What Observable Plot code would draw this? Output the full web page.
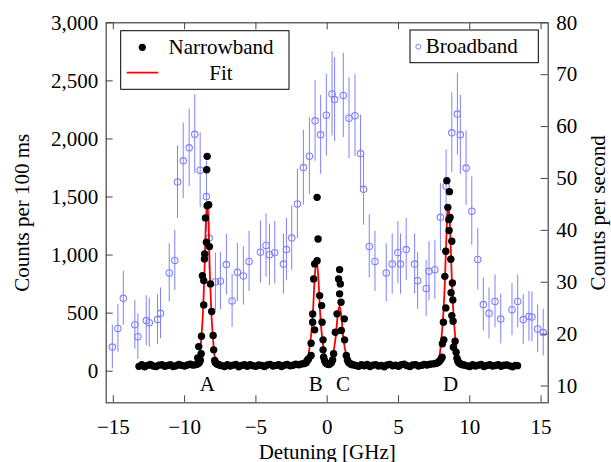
<!DOCTYPE html>
<html><head><meta charset="utf-8">
<script src="https://cdn.jsdelivr.net/npm/d3@7"></script>
<script src="https://cdn.jsdelivr.net/npm/@observablehq/plot@0.6"></script>
<style>body{margin:0;background:#fff}</style>
</head><body><div id="chart"></div>
<script>
// ---------- Narrowband (counts per 100 ms) ----------
const nbX = [
 -13.2,-13.0,-12.8,-12.6,-12.4,-12.2,-12.0,-11.8,-11.6,-11.4,-11.2,-11.0,-10.8,-10.6,-10.4,-10.2,-10.0,-9.8,-9.6,-9.4,-9.2,
 -9.1,-9.0,-8.95,-8.9,
 -8.42,-8.45,-8.42,-8.31,-8.54,-8.47,-8.26,-8.59,-8.61,-8.75,-8.66,-8.19,-8.66,-8.10,-8.82,-8.00,-9.01,-7.96,-8.84,-9.08,-7.89,-8.98,
 -7.85,-7.8,-7.7,-7.6,-7.5,
 -7.4,-7.2,-7.0,-6.8,-6.6,-6.4,-6.2,-6.0,-5.8,-5.6,-5.4,-5.2,-5.0,-4.8,-4.6,-4.4,-4.2,-4.0,-3.8,-3.6,-3.4,-3.2,-3.0,-2.8,-2.6,-2.4,-2.2,-2.0,-1.8,-1.6,
 -1.5,-1.45,-1.4,-1.35,
 -0.71,-0.64,-0.71,-0.88,-0.95,-0.53,-0.39,-1.02,-0.36,-1.02,-0.88,-1.13,-0.29,-0.29,-1.13,-1.30,-0.25,
 -0.18,-0.1,0.0,0.1,0.2,0.3,0.38,
 0.87,0.80,0.92,0.87,0.97,0.69,1.20,0.99,0.57,1.22,0.45,1.34,
 1.42,1.48,1.55,1.65,1.72,
 1.8,2.0,2.2,2.4,2.6,2.8,3.0,3.2,3.4,3.6,3.8,4.0,4.2,4.4,4.6,4.8,5.0,5.2,5.4,5.6,5.8,6.0,6.2,6.4,6.6,6.8,7.0,7.2,7.4,7.6,
 7.7,7.8,7.9,7.98,
 8.39,8.57,8.46,8.62,8.53,8.55,8.74,8.32,8.67,8.25,8.78,8.69,8.81,8.32,8.74,8.83,8.15,8.97,8.18,8.08,8.85,9.04,8.06,
 9.1,9.15,9.2,9.3,9.4,9.5,
 9.6,9.8,10.0,10.2,10.4,10.6,10.8,11.0,11.2,11.4,11.6,11.8,12.0,12.2,12.4,12.6,12.8,13.0,13.2,13.35
];
const nbY = [
 42,55,38,50,58,45,40,52,57,43,49,56,41,47,59,50,44,54,60,52,57,
 62,70,80,95,
 1850,1735,1425,1434,1320,1110,1073,1010,967,823,780,752,571,514,301,307,212,184,150,115,92,92,
 78,68,60,56,52,
 48,41,56,45,52,58,39,50,55,43,57,47,42,54,49,40,53,59,44,50,56,41,52,58,47,51,60,55,62,66,
 72,80,92,100,
 1497,1139,952,924,795,651,565,493,422,422,356,241,270,184,135,107,120,
 90,70,62,58,64,74,96,
 875,795,752,666,594,494,451,350,336,270,150,135,
 96,80,70,62,58,
 56,49,42,55,47,58,40,52,57,44,50,39,54,59,46,51,43,55,60,48,41,53,57,45,50,58,54,60,63,66,
 70,78,90,104,
 1641,1546,1411,1325,1305,1211,1119,1033,964,817,760,675,614,545,479,430,422,258,270,236,207,163,120,
 112,92,78,66,60,56,
 54,47,41,56,44,52,58,40,50,55,45,49,57,42,51,53,46,39,50,48
];

// ---------- Fit (counts per 100 ms) ----------
const fitX = [-13.3,-11,-9.92,-9.42,-9.12,-9.02,-8.92,-8.82,-8.72,-8.62,-8.52,-8.42,-8.32,-8.22,-8.12,-8.02,-7.92,-7.82,-7.72,-7.42,-6.92,-5,-3,
 -2.55,-1.95,-1.59,-1.47,-1.35,-1.23,-1.11,-0.99,-0.87,-0.75,-0.63,-0.51,-0.39,-0.27,
 -0.15,-0.03,0.05,0.14,0.26,0.38,0.50,0.62,0.74,0.86,0.98,1.10,1.22,1.34,1.46,1.58,1.70,2.06,2.66,5,
 6.7,7.3,7.66,7.78,7.9,8.02,8.14,8.26,8.38,8.50,8.62,8.74,8.86,8.98,9.10,9.22,9.34,9.7,10.3,12,13.35];
const fitY = [48,49,52,58,72,95,150,300,490,800,1250,1448,1250,800,490,300,150,95,72,58,52,49,50,
 51,54,63,78,114,210,332,531,821,948,821,531,332,210,
 120,86,76,79,93,145,210,323,488,560,488,323,210,140,85,65,57,52,50,49,
 52,58,72,95,150,295,485,790,1235,1428,1235,790,485,295,150,95,72,58,52,49,48];

// ---------- Broadband (counts per second) ----------
const bbX = [-15.07,-14.68,-14.30,-13.49,-13.28,-12.69,-12.48,-11.90,-11.69,-11.08,-10.69,-10.50,-10.10,-9.68,-9.29,-8.91,-8.47,-8.28,-7.84,-7.49,-7.07,-6.67,-6.30,-5.88,-5.48,-4.68,-4.29,-4.05,-3.68,-3.07,-2.86,-2.49,-2.09,-1.67,-1.25,-0.85,-0.46,-0.06,0.34,0.52,1.13,1.53,1.95,2.34,2.55,2.95,3.35,4.14,4.56,4.96,5.14,5.54,6.13,6.34,6.94,7.14,7.55,7.94,8.34,8.74,9.13,9.34,9.74,10.14,10.56,10.95,11.35,11.77,12.17,12.96,13.36,13.75,14.15,14.36,14.76,15.15];
const bbY = [17.5,21.1,26.9,21.8,19.5,22.6,22.2,22.8,24.0,31.8,34.2,49.3,53.4,55.9,58.5,51.6,46.5,38.5,30.1,30.2,33.4,26.4,31.9,31.2,34.0,35.8,37.1,35.3,35.7,33.5,36.3,38.5,45.1,52.1,54.3,61.1,58.4,62.2,66.3,65.2,66.0,61.6,62.1,54.8,47.9,36.9,34.0,31.8,33.5,35.7,33.5,36.3,33.5,30.3,28.8,32.1,32.4,42.5,48.5,58.8,62.4,58.4,52.0,43.7,34.4,25.7,24.0,26.3,22.9,24.7,26.3,22.8,23.4,23.3,21.0,20.3];
const bbErr = [4.2,4.6,5.2,4.7,4.4,4.8,4.7,4.8,4.9,5.6,5.8,7.0,7.3,7.5,7.6,7.2,6.8,6.2,5.5,5.5,5.8,5.1,5.6,5.6,5.8,6.0,6.1,5.9,6.0,5.8,6.0,6.2,6.7,7.2,7.4,7.8,7.6,7.9,8.1,8.1,8.1,7.8,7.9,7.4,6.9,6.1,5.8,5.6,5.8,6.0,5.8,6.0,5.8,5.5,5.4,5.7,5.7,6.5,7.0,7.7,7.9,7.6,7.2,6.6,5.9,5.1,4.9,5.1,4.8,5.0,5.1,4.8,4.8,4.8,4.6,4.5];

// ---------- Ticks and labels ----------
const xTicks = [-15,-10,-5,0,5,10,15];
const yTicks = [0,500,1000,1500,2000,2500,3000];
const rTicks = [10,20,30,40,50,60,70,80];
const peakLabels = ["A","B","C","D"];
const peakLabelX = [-8.4,-0.8,1.1,8.65];
const xTitle = "Detuning [GHz]";
const yTitle = "Counts per 100 ms";
const rTitle = "Counts per second";
const legendLeft = ["Narrowband","Fit"];
const legendRight = ["Broadband"];

// ---------- Layout ----------
const W = 611, H = 462;
const mL = 105.7, mR = 63.3, mT = 22.3, mB = 59.7;
const fw = W - mL - mR, fh = H - mT - mB;
const xDomain = [-15.5, 15.5], yDomain = [-272, 3000], rDomain = [6.76, 80];
const toLeft = v => yDomain[0] + (v - rDomain[0]) * (yDomain[1] - yDomain[0]) / (rDomain[1] - rDomain[0]);
const fromLeft = c => rDomain[0] + (c - yDomain[0]) * (rDomain[1] - rDomain[0]) / (yDomain[1] - yDomain[0]);
const font = "'Liberation Serif', 'Times New Roman', serif";
const axisColor = "#444";
const bbColor = "#8080ff";
const minus = d => d < 0 ? "\u2212" + Math.abs(d) : String(d);

const nb = nbX.map((x, i) => ({x, y: nbY[i]}));
const fit = fitX.map((x, i) => ({x, y: fitY[i]}));
const bb = bbX.map((x, i) => ({x, v: bbY[i], e: bbErr[i]}));

const chart = Plot.plot({
  width: W, height: H,
  marginLeft: mL, marginRight: mR, marginTop: mT, marginBottom: mB,
  style: {fontFamily: font, fontSize: "21px", background: "#fff", overflow: "visible"},
  x: {domain: xDomain, label: null},
  y: {domain: yDomain, label: null},
  marks: [
    Plot.ruleX(bb, {x: "x", y1: d => toLeft(d.v - d.e), y2: d => toLeft(d.v + d.e), stroke: bbColor, strokeWidth: 1}),
    Plot.dot(bb, {x: "x", y: d => toLeft(d.v), r: 3.2, stroke: bbColor, fill: "none", strokeWidth: 1.1}),
    Plot.line(fit, {x: "x", y: "y", stroke: "red", strokeWidth: 1.8, curve: "monotone-x"}),
    Plot.dot(nb, {x: "x", y: "y", r: 3.7, fill: "black", stroke: "none"}),
    Plot.text(peakLabels, {x: (d, i) => peakLabelX[i], text: d => d, frameAnchor: "bottom", dy: -12, fill: "black"}),
    Plot.ruleX(xTicks, {x: d => d, insetTop: fh - 7, stroke: axisColor}),
    Plot.ruleX(xTicks, {x: d => d, insetBottom: fh - 7, stroke: axisColor}),
    Plot.ruleY(yTicks, {y: d => d, insetRight: fw - 7, stroke: axisColor}),
    Plot.ruleY(rTicks.map(toLeft), {y: d => d, insetLeft: fw - 7, stroke: axisColor}),
    Plot.axisX(xTicks, {anchor: "bottom", tickSize: 0, tickPadding: 16, tickFormat: minus, label: null}),
    Plot.axisY(yTicks, {anchor: "left", tickSize: 0, tickPadding: 8, tickFormat: d3.format(","), label: null}),
    Plot.axisY(rTicks.map(toLeft), {anchor: "right", tickSize: 0, tickPadding: 8, tickFormat: d => String(Math.round(fromLeft(d))), label: null}),
    Plot.frame({stroke: axisColor, strokeWidth: 1.2}),
    Plot.text([xTitle], {text: d => d, frameAnchor: "bottom", dy: 49, lineAnchor: "middle", textAnchor: "middle"}),
    Plot.text([yTitle], {text: d => d, frameAnchor: "left", dx: -83.7, rotate: -90, lineAnchor: "middle", textAnchor: "middle"}),
    Plot.text([rTitle], {text: d => d, frameAnchor: "right", dx: 50.3, rotate: -90, lineAnchor: "middle", textAnchor: "middle"})
  ]
});

// ---------- Legends ----------
const svg = d3.select(chart);
const lg = svg.append("g").attr("font-family", font).attr("font-size", 21).attr("fill", "black");
lg.append("rect").attr("x", 120.7).attr("y", 30.7).attr("width", 168.3).attr("height", 58.6)
  .attr("fill", "white").attr("stroke", "black").attr("stroke-width", 1);
lg.append("circle").attr("cx", 142.3).attr("cy", 47.3).attr("r", 3.6).attr("fill", "black");
lg.append("text").attr("x", 221).attr("y", 53.5).attr("text-anchor", "middle").text(legendLeft[0]);
lg.append("line").attr("x1", 126.7).attr("x2", 158.3).attr("y1", 72.7).attr("y2", 72.7).attr("stroke", "red").attr("stroke-width", 1.8);
lg.append("text").attr("x", 221).attr("y", 79.5).attr("text-anchor", "middle").text(legendLeft[1]);
lg.append("rect").attr("x", 410).attr("y", 30).attr("width", 128.3).attr("height", 32.7)
  .attr("fill", "white").attr("stroke", "black").attr("stroke-width", 1);
lg.append("circle").attr("cx", 418.3).attr("cy", 46.7).attr("r", 2.5).attr("fill", "none").attr("stroke", bbColor).attr("stroke-width", 1);
lg.append("text").attr("x", 425.7).attr("y", 53.3).attr("text-anchor", "start").text(legendRight[0]);

document.getElementById("chart").appendChild(chart);
</script>
</body></html>
